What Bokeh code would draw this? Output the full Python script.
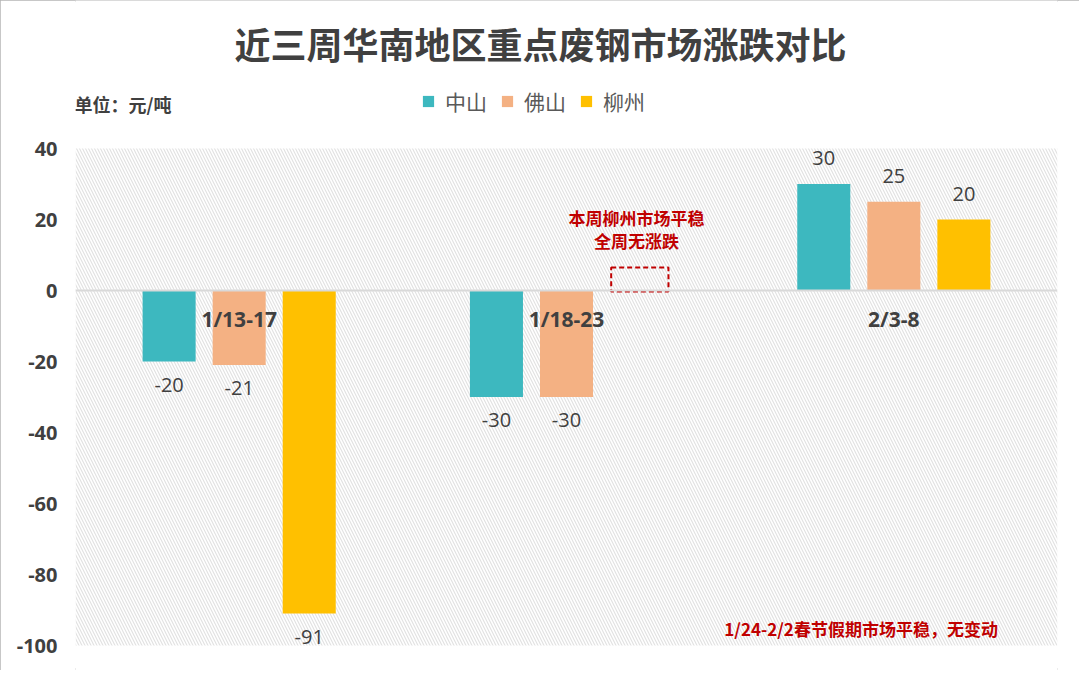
from bokeh.plotting import figure
from bokeh.models import (ColumnDataSource, Label, Span, BoxAnnotation, Legend,
                          LegendItem, FactorRange, FixedTicker, Range1d)
from bokeh.transform import dodge
from bokeh.core.properties import value
from bokeh.embed import file_html
from bokeh.resources import INLINE

# ---------------- data ----------------
categories = ["1/13-17", "1/18-23", "2/3-8"]
series_names = ["中山", "佛山", "柳州"]
zhongshan = [-20, -30, 30]
foshan = [-21, -30, 25]
liuzhou = [-91, 0, 20]
y_ticks = [40, 20, 0, -20, -40, -60, -80, -100]

title_text = "近三周华南地区重点废钢市场涨跌对比"
unit_text = "单位：元/吨"
note_lines = ["本周柳州市场平稳", "全周无涨跌"]
bottom_note = "1/24-2/2春节假期市场平稳，无变动"

# ---------------- layout / style ----------------
W, H = 1079, 670
frame_left, frame_right = 75, 1057
axis_top_px, axis_bot_px = 148, 645          # pixel rows of y=40 and y=-100
ax_max, ax_min = max(y_ticks), min(y_ticks)
k = (axis_bot_px - axis_top_px) / (ax_max - ax_min)
y_end = ax_max + axis_top_px / k
y_start = ax_min - (H - axis_bot_px) / k

colors = ["#3DB8BF", "#F4B183", "#FFC000"]
offsets = [-0.214, 0.0, 0.214]
bar_w = 0.162
dark = "#404040"
red = "#C00000"
num_font = value("Open Sans")
cjk_font = "Noto Sans CJK SC"

p = figure(width=W, height=H, x_range=FactorRange(*categories),
           y_range=Range1d(y_start, y_end), output_backend="svg", toolbar_location=None,
           min_border_left=frame_left, min_border_right=W - frame_right,
           min_border_top=0, min_border_bottom=0)
p.outline_line_color = None
p.xgrid.visible = False
p.ygrid.visible = False
p.xaxis.visible = False
p.styles = {"outline": "2px solid #b4b4b4", "outline-offset": "-2px"}

yax = p.yaxis[0]
yax.ticker = FixedTicker(ticks=y_ticks)
yax.major_label_overrides = {t: str(t) for t in y_ticks}
yax.axis_line_color = None
yax.major_tick_line_color = None
yax.minor_tick_line_color = None
yax.major_label_standoff = 12
yax.major_label_text_font = "Open Sans"
yax.major_label_text_font_style = "bold"
yax.major_label_text_font_size = "20px"
yax.major_label_text_color = dark

# hatched plot area background (only the value area)
p.add_layout(BoxAnnotation(top=ax_max, bottom=ax_min, fill_color=None, line_color=None,
                           level="underlay", hatch_pattern="left_diagonal_line",
                           hatch_color="#e2e2e2", hatch_scale=6, hatch_weight=1.2))
p.add_layout(Span(location=0, dimension="width", line_color="#d9d9d9", line_width=2))

legend_items = []
for name, vals, col, off in zip(series_names, [zhongshan, foshan, liuzhou], colors, offsets):
    labels = [str(v) if v != 0 else "" for v in vals]
    yoff = [23 if v < 0 else -26 for v in vals]
    src = ColumnDataSource(dict(cat=categories, val=vals, lbl=labels, yoff=yoff))
    r = p.vbar(x=dodge("cat", off, range=p.x_range), top="val", bottom=0, width=bar_w,
               fill_color=col, line_color=None, source=src)
    legend_items.append(LegendItem(label=name, renderers=[r]))
    p.text(x=dodge("cat", off, range=p.x_range), y="val", text="lbl", y_offset="yoff",
           text_align="center", text_baseline="middle", text_font=num_font,
           text_font_size="20px", text_color=dark, source=src)

# dashed placeholder for zero-change bar of 柳州
zero_cats = [c for c, v in zip(categories, liuzhou) if v == 0]
zsrc = ColumnDataSource(dict(cat=zero_cats, top=[6.5] * len(zero_cats), bot=[-0.3] * len(zero_cats)))
p.vbar(x=dodge("cat", offsets[2] + 0.01, range=p.x_range), top="top", bottom="bot",
       width=0.175, fill_alpha=0, line_color=red, line_dash="5 3", line_width=2, source=zsrc)

# category labels inside the plot
csrc = ColumnDataSource(dict(cat=categories, y=[-8] * len(categories)))
p.text(x="cat", y="y", text="cat", text_align="center", text_baseline="middle",
       text_font=num_font, text_font_style="bold", text_font_size="21px",
       text_color=dark, source=csrc)

# legend (inside the frame, above the value area)
legend = Legend(items=legend_items, orientation="horizontal", location=(346, H - 116),
                label_text_font=cjk_font, label_text_font_size="21px",
                label_text_color="#595959", glyph_width=14, glyph_height=14,
                label_standoff=10, spacing=13, padding=0, margin=0,
                border_line_color=None, background_fill_alpha=0)
p.add_layout(legend, "center")

# title & unit (screen units relative to frame bottom-left)
p.add_layout(Label(x=540 - frame_left, y=H - 42, x_units="screen", y_units="screen",
                   text=title_text, text_align="center", text_baseline="middle",
                   text_font=cjk_font, text_font_style="bold", text_font_size="36px",
                   text_color=dark))
p.add_layout(Label(x=-1, y=H - 103, x_units="screen", y_units="screen", text=unit_text,
                   text_align="left", text_baseline="middle", text_font=cjk_font,
                   text_font_style="bold", text_font_size="18px", text_color=dark))

# red notes
p.add_layout(Label(x=1.5 + offsets[2], y=20.6, text=note_lines[0], text_align="center",
                   text_baseline="middle", text_font=cjk_font, text_font_style="bold",
                   text_font_size="17px", text_color=red))
p.add_layout(Label(x=1.5 + offsets[2], y=14.2, text=note_lines[1], text_align="center",
                   text_baseline="middle", text_font=cjk_font, text_font_style="bold",
                   text_font_size="17px", text_color=red))
p.add_layout(Label(x=2.4, y=-95.2, text=bottom_note, text_align="center",
                   text_baseline="middle", text_font=cjk_font, text_font_style="bold",
                   text_font_size="17px", text_color=red))

open("out.html", "w").write(file_html(p, INLINE))
